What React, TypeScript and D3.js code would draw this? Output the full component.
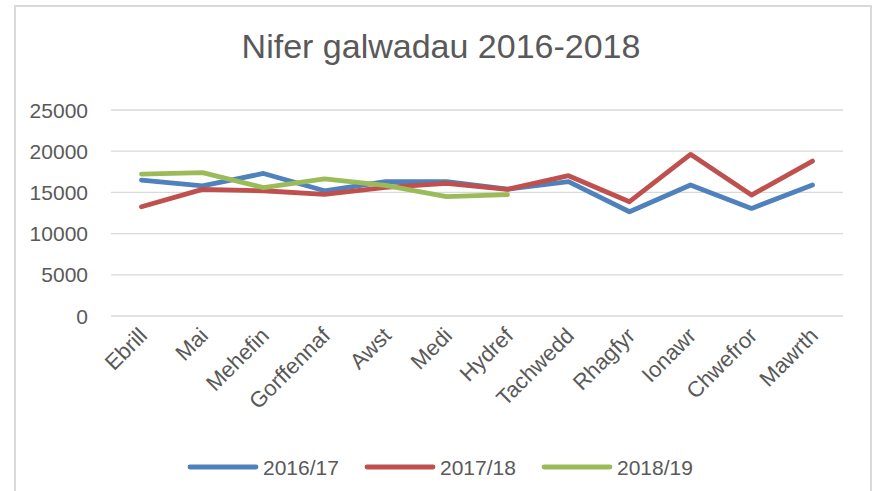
import React from "react";
import * as d3 from "d3";

const categories = ["Ebrill", "Mai", "Mehefin", "Gorffennaf", "Awst", "Medi", "Hydref", "Tachwedd", "Rhagfyr", "Ionawr", "Chwefror", "Mawrth"];
const series1617 = [16500, 15800, 17300, 15200, 16300, 16300, 15400, 16300, 12650, 15900, 13050, 15900];
const series1718 = [13260, 15370, 15200, 14760, 15600, 16100, 15370, 17030, 13870, 19620, 14680, 18800];
const series1819 = [17230, 17400, 15580, 16630, 15850, 14480, 14720];
const seriesNames = ["2016/17", "2017/18", "2018/19"];
const seriesColors = ["#4F81BD", "#C0504D", "#9BBB59"];
const yTicks = [0, 5000, 10000, 15000, 20000, 25000];
const title = "Nifer galwadau 2016-2018";

const W = 878, H = 491;
const plotL = 111, plotR = 843, plotT = 110, plotB = 316;
const FONT = "'Liberation Sans', Arial, sans-serif";
const TXT = "#595959";

export default function App() {
  const x = d3.scaleBand<string>().domain(categories).range([plotL, plotR]);
  const y = d3.scaleLinear().domain([0, 25000]).range([plotB, plotT]);
  const allSeries = [series1617, series1718, series1819];
  const line = d3.line<number>()
    .x((_, i) => (x(categories[i]) as number) + x.bandwidth() / 2)
    .y((d) => y(d));

  const legendItems = [
    { lx: 190, tx: 263 },
    { lx: 367, tx: 440 },
    { lx: 544, tx: 617 },
  ];

  return (
    <svg width={W} height={H} style={{ position: "absolute", left: 0, top: 0, background: "#fff" }} fontFamily={FONT}>
      <rect x={0} y={0} width={W} height={H} fill="#fff" />
      <rect x={15} y={6} width={856} height={500} fill="none" stroke="#d9d9d9" strokeWidth={2} />
      <text x={441} y={58} textAnchor="middle" fontSize={34} fill={TXT}>{title}</text>
      {yTicks.map((t) => (
        <g key={t}>
          <line x1={plotL} x2={plotR} y1={y(t)} y2={y(t)} stroke="#d9d9d9" strokeWidth={1.3} />
          <text x={88} y={y(t)} dy="0.36em" textAnchor="end" fontSize={21} fill={TXT}>{t}</text>
        </g>
      ))}
      {categories.map((c) => {
        const cx = (x(c) as number) + x.bandwidth() / 2;
        return (
          <text key={c} transform={`translate(${cx + 7},${337}) rotate(-45)`} textAnchor="end" fontSize={22} fill={TXT}>{c}</text>
        );
      })}
      {allSeries.map((s, i) => (
        <path key={i} d={line(s) as string} fill="none" stroke={seriesColors[i]} strokeWidth={4.8} strokeLinejoin="round" strokeLinecap="round" />
      ))}
      {legendItems.map((li, i) => (
        <g key={i}>
          <line x1={li.lx} x2={li.lx + 66} y1={467} y2={467} stroke={seriesColors[i]} strokeWidth={4.8} strokeLinecap="round" />
          <text x={li.tx} y={467} dy="0.36em" fontSize={21} fill={TXT}>{seriesNames[i]}</text>
        </g>
      ))}
    </svg>
  );
}
